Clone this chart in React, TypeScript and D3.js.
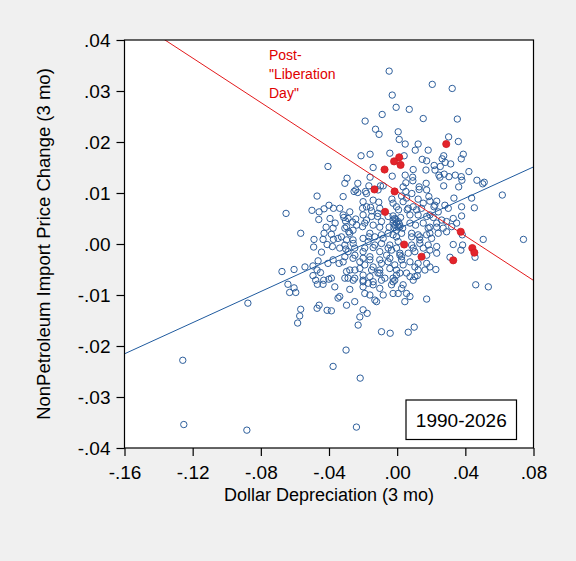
import React, { useEffect, useRef } from 'react'
import * as d3 from 'd3'

// dollar depreciation (3 mo), 1990 - early 2025
const dollarDep = [
  -0.0047, 0.0206, 0.0323, -0.0029, -0.0006, 0.0071, -0.0088, 0.0153, 0.0353, -0.0188,
  -0.0127, -0.0106, 0.0006, 0.0012, 0.0047, 0.0302, 0.0359, 0.0123, 0.0106, 0.0182,
  -0.0043, -0.0159, -0.0212, 0.0041, 0.0147, 0.0173, 0.0273, 0.0264, 0.0388, 0.0376,
  0.0282, 0.0314, -0.0406, -0.0141, 0.0094, 0.0169, 0.0217, 0.0253, 0.0222, -0.0029,
  -0.0159, -0.0294, 0.0047, 0.0051, 0.0091, 0.0092, 0.0129, 0.017, 0.0245, 0.0251,
  0.0276, 0.0304, 0.0341, 0.0376, 0.038, 0.0421, 0.0468, 0.0511, -0.0231, 0.0273,
  0.0361, -0.047, -0.0652, -0.05, -0.0458, -0.0429, -0.04, -0.0374, -0.0337, -0.046,
  -0.0394, -0.0364, -0.0417, -0.0566, -0.0429, -0.0386, -0.0488, -0.0435, -0.0374, -0.0411,
  -0.049, -0.0243, -0.0253, -0.0231, -0.0186, -0.0098, -0.0166, -0.0082, -0.0031, 0.0026,
  0.0051, 0.0055, 0.0086, 0.0123, 0.0129, 0.0186, 0.0192, 0.0153, 0.0232, 0.0216,
  -0.0278, -0.0203, -0.018, -0.0156, -0.015, -0.0108, -0.0102, -0.0004, 0.0008, 0.0059,
  0.0094, 0.0114, -0.0313, -0.0303, -0.0262, -0.0243, -0.02, -0.018, -0.0115, -0.0024,
  -0.0024, 0.002, 0.0075, 0.0123, 0.0173, 0.0212, 0.0241, -0.0376, -0.0307, -0.0284,
  -0.0259, -0.0203, -0.0141, -0.0102, -0.0047, -0.0004, 0.0006, 0.0032, 0.0075, 0.0108,
  0.0153, 0.0192, 0.0232, -0.0347, -0.0297, -0.0259, -0.02, -0.0166, -0.0131, -0.0082,
  -0.0024, -0.0004, 0.0026, 0.0085, 0.0123, 0.0133, 0.0173, 0.0202, 0.0241, -0.038,
  -0.0337, -0.0301, -0.0249, -0.019, -0.0141, -0.0102, -0.0053, -0.0004, 0.0016, 0.0094,
  0.0153, 0.0192, 0.0232, -0.0376, -0.0341, -0.0307, -0.0259, -0.02, -0.016, -0.0102,
  -0.0043, 0.0026, 0.0075, 0.0173, 0.0192, 0.0227, -0.0278, -0.0219, -0.019, -0.0141,
  -0.0102, -0.0043, -0.0004, 0.0035, 0.0104, 0.0123, -0.0386, -0.0288, -0.0249, -0.02,
  -0.016, -0.0102, -0.0072, -0.0024, -0.0004, 0.0055, 0.0075, 0.0118, -0.0366, -0.0278,
  -0.02, -0.017, -0.0141, -0.0102, -0.0033, -0.0014, 0.0026, -0.0337, -0.0347, -0.0249,
  -0.019, -0.016, -0.0131, -0.0121, -0.0082, -0.0024, 0.0006, 0.0055, 0.0075, 0.0045,
  0.0173, -0.0297, -0.0386, -0.02, -0.0176, -0.0219, -0.0229, -0.0092, -0.0041, 0.0065,
  0.01, -0.03, -0.0376, -0.0217, -0.0239, -0.0444, -0.0676, -0.0605, -0.0541, -0.0494,
  -0.0464, -0.047, -0.045, -0.0406, -0.0494, -0.0478, -0.0468, -0.0431, -0.0401, -0.0435,
  -0.0641, -0.0605, -0.0631, -0.0595, -0.0876, -0.0566, -0.0572, -0.0584, -0.0458, -0.047,
  -0.0411, 0.0502, 0.0437, 0.0333, 0.0378, 0.0453, 0.0617, 0.028, 0.03, 0.0261,
  0.029, 0.0329, 0.0378, 0.027, 0.032, 0.0349, 0.029, 0.0382, 0.0505, 0.0741,
  0.0329, 0.0384, 0.0374, 0.031, 0.0457, 0.0461, 0.0535, -0.1258, -0.1252, -0.0882,
  0.0035, -0.0307, -0.018, -0.0112, 0.0173, -0.0317, -0.02, -0.0141, -0.0024, 0.0035,
  0.0221, 0.0065, 0.0143, -0.0317, -0.0288, -0.015, -0.0112, -0.0053, -0.0014, 0.0006,
  -0.0014, 0.0016, -0.0024, 0.0192, -0.0297, -0.0238, -0.019, -0.0092, 0.0182, 0.0232,
  -0.0327, -0.0278, -0.016, -0.0092, -0.0053, -0.0004, 0.0085, 0.0133, 0.0192, -0.0307,
  -0.0258, -0.017, -0.0131, -0.0092, -0.0043, 0.0006, 0.0085, 0.0133, 0.0182, -0.0288,
  -0.0248, -0.02, -0.016, -0.0062, -0.0033, 0.0016, 0.0065, 0.0104, 0.0173, 0.0232,
  -0.0317, -0.0219, -0.0092, -0.0053, -0.0014, 0.0026, 0.0123, -0.0297, -0.0248, -0.02,
  -0.015, -0.0112, 0.0016, 0.0104, 0.0163, -0.0307, -0.0258, -0.02, -0.0141, -0.0092,
  -0.0024, 0.0035, 0.0094, -0.0008, 0.0013, -0.0019,
]

// nonpetroleum import price change (3 mo), same months
const importPx = [
  0.0339, 0.0313, 0.0305, 0.0292, 0.0268, 0.0264, 0.0254, 0.0246, 0.0245, 0.0241,
  0.0225, 0.0215, 0.022, 0.0205, 0.0196, 0.021, 0.0201, 0.0196, 0.0184, 0.0184,
  0.0178, 0.0176, 0.0173, 0.0173, 0.0166, 0.0163, 0.0173, 0.0167, 0.0176, 0.0167,
  0.016, 0.0157, 0.0152, 0.015, 0.0146, 0.0145, 0.0154, 0.0152, 0.0145, 0.0133,
  0.0131, 0.0129, 0.0135, 0.012, 0.0131, 0.0124, 0.0112, 0.0119, 0.0135, 0.0131,
  0.0137, 0.0132, 0.0135, 0.0132, 0.0125, 0.0142, 0.0125, 0.0121, 0.0119, 0.0114,
  0.0112, 0.0094, 0.006, 0.0066, 0.0063, 0.0069, 0.0076, 0.007, 0.007, 0.0048,
  0.005, 0.0041, 0.0033, 0.0021, 0.0021, 0.0019, 0.0009, 0.0009, 0.0009, -0.0001,
  -0.0006, 0.0106, 0.0103, 0.0101, 0.0103, 0.0114, 0.0114, 0.0114, 0.0088, 0.0094,
  0.0103, 0.009, 0.0099, 0.0088, 0.0107, 0.0093, 0.0084, 0.008, 0.0084, 0.0073,
  0.0063, 0.007, 0.0073, 0.0072, 0.0065, 0.0082, 0.007, 0.0073, 0.0067, 0.0067,
  0.0073, 0.0067, 0.0052, 0.0045, 0.0043, 0.0049, 0.0057, 0.0047, 0.0054, 0.0055,
  0.0047, 0.0052, 0.0057, 0.0057, 0.0054, 0.0052, 0.0063, 0.0031, 0.0031, 0.0024,
  0.0027, 0.0034, 0.0037, 0.0033, 0.0033, 0.0041, 0.0033, 0.0031, 0.0041, 0.0037,
  0.0041, 0.0033, 0.0033, 0.0011, 0.0008, 0.0008, 0.0011, 0.0014, 0.0014, 0.0011,
  0.0018, 0.0027, 0.0021, 0.0014, 0.0018, 0.0008, 0.0018, 0.0011, 0.0021, -0.0005,
  -0.0008, -0.001, -0.0008, -0.0008, -0.0007, -0.0015, -0.0008, -0.0008, -0.0018, -0.0008,
  -0.0008, -0.0012, -0.0005, -0.0031, -0.0038, -0.0025, -0.0028, -0.0028, -0.0031, -0.0031,
  -0.0028, -0.0025, -0.0035, -0.0038, -0.0045, -0.005, -0.0051, -0.0048, -0.0041, -0.0045,
  -0.0051, -0.0048, -0.0051, -0.0041, -0.0045, -0.0051, -0.0067, -0.0067, -0.0067, -0.0071,
  -0.0064, -0.0057, -0.0067, -0.0067, -0.0061, -0.0057, -0.0064, -0.0062, -0.0084, -0.0089,
  -0.0084, -0.0077, -0.008, -0.0087, -0.008, -0.0071, -0.0087, -0.0103, -0.0106, -0.0113,
  -0.0097, -0.01, -0.011, -0.0113, -0.01, -0.0097, -0.0097, -0.0097, -0.0103, -0.0113,
  -0.0108, -0.012, -0.0131, -0.0129, -0.0136, -0.0143, -0.0159, -0.0172, -0.0175, -0.0173,
  -0.0163, -0.0208, -0.024, -0.0263, -0.0359, -0.0016, -0.0054, -0.005, -0.0045, -0.0043,
  -0.0033, -0.0051, -0.0056, -0.0038, -0.0062, -0.0071, -0.0079, -0.0071, -0.0069, -0.0079,
  -0.0079, -0.0086, -0.0095, -0.0095, -0.0116, -0.0128, -0.0141, -0.0155, -0.012, -0.0126,
  -0.013, 0.0118, 0.009, 0.009, 0.0073, 0.0071, 0.0096, 0.0076, 0.007, 0.0047,
  0.0044, 0.005, 0.0055, 0.0031, 0.0034, 0.0041, 0.0024, 0.0018, 0.0009, 0.0009,
  -0.0001, -0.0002, -0.0012, -0.0026, -0.0026, -0.008, -0.0084, -0.0228, -0.0354, -0.0365,
  0.0112, 0.0119, 0.0099, 0.0106, 0.0106, 0.0093, 0.0083, 0.0086, 0.008, 0.0083,
  0.0076, 0.007, 0.007, 0.0057, 0.005, 0.0054, 0.006, 0.0054, 0.005, 0.0044,
  0.0037, 0.0034, 0.0041, 0.0057, 0.0034, 0.0037, 0.0041, 0.0044, 0.0031, 0.0041,
  0.0014, 0.0021, 0.0021, 0.0018, 0.0021, 0.0014, 0.0021, 0.0014, 0.0021, -0.0002,
  0.0001, 0.0005, -0.0002, 0.0001, -0.0002, 0.0005, -0.0002, 0.0001, -0.0002, -0.0015,
  -0.0022, -0.0015, -0.0025, -0.0022, -0.0012, -0.0022, -0.0018, -0.0015, -0.0022, -0.0018,
  -0.0035, -0.0035, -0.0038, -0.0035, -0.0041, -0.0031, -0.0038, -0.0054, -0.0051, -0.0061,
  -0.0051, -0.0057, -0.0057, -0.0064, -0.0051, -0.0067, -0.0071, -0.0074, -0.0074, -0.0071,
  -0.0074, -0.008, -0.0071, 0.0048, 0.0039, 0.0032,
]

// post-"Liberation Day" months
const postDollarDep = [
  0.0288, 0.0012, -0.0018, 0.002, -0.0074, -0.0133, -0.0015, -0.0071, 0.0041, 0.0143,
  0.0373, 0.0441, 0.0453, 0.0329,
]
const postImportPx = [
  0.0196, 0.017, 0.0162, 0.0155, 0.0146, 0.0107, 0.0103, 0.0063, -0.0001, -0.0025,
  0.0024, -0.0008, -0.0017, -0.0032,
]

// fitted lines: [intercept, slope]
const fullFit = [0.0029, 0.1527]
const postFit = [0.0103, -0.218]

const xTicks = [-0.16, -0.12, -0.08, -0.04, 0, 0.04, 0.08]
const xTickLabels = ['-.16', '-.12', '-.08', '-.04', '.00', '.04', '.08']
const yTicks = [0.04, 0.03, 0.02, 0.01, 0, -0.01, -0.02, -0.03, -0.04]
const yTickLabels = ['.04', '.03', '.02', '.01', '.00', '-.01', '-.02', '-.03', '-.04']

const width = 576
const height = 561
const margin = { top: 40, right: 42.5, bottom: 113, left: 124.5 }
const font = "'Liberation Sans', Arial, sans-serif"

const Chart: React.FC = () => {
  const svgRef = useRef<SVGSVGElement | null>(null)

  useEffect(() => {
    if (!svgRef.current) return
    const svg = d3.select(svgRef.current)
    svg.selectAll('*').remove()

    const x = d3
      .scaleLinear()
      .domain([-0.16, 0.08])
      .range([margin.left, width - margin.right])
    const y = d3
      .scaleLinear()
      .domain([-0.04, 0.04])
      .range([height - margin.bottom, margin.top])

    const pw = width - margin.left - margin.right
    const ph = height - margin.top - margin.bottom

    svg.append('rect').attr('width', width).attr('height', height).attr('fill', '#f0f0f0')
    svg
      .append('rect')
      .attr('x', margin.left)
      .attr('y', margin.top)
      .attr('width', pw)
      .attr('height', ph)
      .attr('fill', 'white')

    svg
      .append('clipPath')
      .attr('id', 'plot-clip')
      .append('rect')
      .attr('x', margin.left)
      .attr('y', margin.top)
      .attr('width', pw)
      .attr('height', ph)

    const plot = svg.append('g').attr('clip-path', 'url(#plot-clip)')

    // scatter, whole sample
    plot
      .append('g')
      .selectAll('circle')
      .data(dollarDep)
      .join('circle')
      .attr('cx', (d) => x(d))
      .attr('cy', (_, i) => y(importPx[i]))
      .attr('r', 3.2)
      .attr('fill', 'none')
      .attr('stroke', '#2e5f9c')
      .attr('stroke-width', 1)

    const line = d3.line<number>().x((d) => x(d))

    const fitLine = (fit: number[], color: string) => {
      line.y((d) => y(fit[0] + fit[1] * d))
      plot
        .append('path')
        .attr('d', line([-0.16, 0.08]))
        .attr('fill', 'none')
        .attr('stroke', color)
        .attr('stroke-width', 1)
    }
    fitLine(fullFit, '#1f5a9e')
    fitLine(postFit, '#e31a1c')

    // post-Liberation Day months
    plot
      .append('g')
      .selectAll('circle')
      .data(postDollarDep)
      .join('circle')
      .attr('cx', (d) => x(d))
      .attr('cy', (_, i) => y(postImportPx[i]))
      .attr('r', 3.6)
      .attr('fill', '#e3242b')
      .attr('stroke', '#d01c22')
      .attr('stroke-width', 0.8)

    svg
      .append('rect')
      .attr('x', margin.left)
      .attr('y', margin.top)
      .attr('width', pw)
      .attr('height', ph)
      .attr('fill', 'none')
      .attr('stroke', 'black')
      .attr('stroke-width', 1.2)

    const yAxis = svg
      .append('g')
      .attr('transform', `translate(${margin.left},0)`)
      .call(
        d3
          .axisLeft(y)
          .tickValues(yTicks)
          .tickFormat((_, i) => yTickLabels[i])
          .tickSize(8)
          .tickPadding(6)
      )
    const xAxis = svg
      .append('g')
      .attr('transform', `translate(0,${height - margin.bottom})`)
      .call(
        d3
          .axisBottom(x)
          .tickValues(xTicks)
          .tickFormat((_, i) => xTickLabels[i])
          .tickSize(8)
          .tickPadding(10)
      )
    ;[yAxis, xAxis].forEach((g) => {
      g.select('.domain').remove()
      g.selectAll('line').attr('stroke-width', 1.2)
      g.selectAll('text').attr('font-size', 19).attr('font-family', font).attr('fill', 'black')
    })

    svg
      .append('text')
      .attr('x', margin.left + pw / 2)
      .attr('y', 501)
      .attr('text-anchor', 'middle')
      .attr('font-family', font)
      .attr('font-size', 18)
      .text('Dollar Depreciation (3 mo)')

    svg
      .append('text')
      .attr('transform', `translate(50,${margin.top + ph / 2}) rotate(-90)`)
      .attr('text-anchor', 'middle')
      .attr('font-family', font)
      .attr('font-size', 18.5)
      .text('NonPetroleum Import Price Change (3 mo)')

    // annotation
    const note = svg
      .append('text')
      .attr('font-family', font)
      .attr('font-size', 14)
      .attr('fill', '#e00000')
    ;['Post-', '"Liberation', 'Day"'].forEach((t, i) => {
      note.append('tspan').attr('x', 269).attr('y', 60 + i * 19).text(t)
    })

    // sample box
    svg
      .append('rect')
      .attr('x', 406)
      .attr('y', 400)
      .attr('width', 110.5)
      .attr('height', 39.5)
      .attr('fill', 'white')
      .attr('stroke', 'black')
      .attr('stroke-width', 1.2)
    svg
      .append('text')
      .attr('x', 461.3)
      .attr('y', 427)
      .attr('text-anchor', 'middle')
      .attr('font-family', font)
      .attr('font-size', 19)
      .text('1990-2026')
  }, [])

  return (
    <svg
      ref={svgRef}
      width={width}
      height={height}
      style={{ position: 'absolute', left: 0, top: 0 }}
    ></svg>
  )
}

export default function App() {
  return <Chart />
}
